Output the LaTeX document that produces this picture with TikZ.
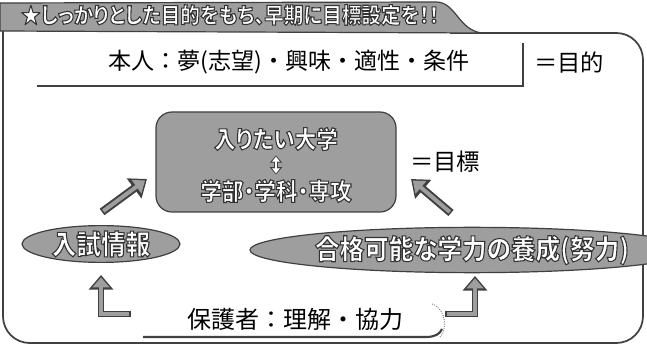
\documentclass[tikz,border=0pt]{standalone}
\usepackage{fontspec}
\setmainfont[RawFeature=+palt]{Noto Sans CJK JP}
\newfontfamily\jpfull{Noto Sans CJK JP}
\newfontfamily\jpcond[RawFeature=+palt, FakeStretch=0.9]{Noto Sans CJK JP}
\usetikzlibrary{arrows.meta,shapes.geometric}
\definecolor{shade}{gray}{0.62}
\definecolor{edge}{gray}{0.25}
\newcommand\outlinetext{\special{pdf:literal direct 0.2 0.2 0.2 RG 0.8 w 2 Tr}}
\begin{document}
\begin{tikzpicture}[x=0.75pt,y=-0.75pt,
  shapebox/.style={fill=shade, draw=edge, line width=0.9pt},
  wlabel/.style={text=white, inner sep=0pt},
  blabel/.style={text=black, inner sep=0pt},
  fatarrow/.style={draw=edge, line width=6pt, -{Triangle[length=12pt,width=18pt]},
    postaction={draw=shade, line width=3pt, -{Triangle[length=8pt,width=12pt]}, shorten >=1.8pt, shorten <=1.2pt}},
  elbowarrow/.style={draw=edge, line width=5pt, -{Triangle[length=11pt,width=18pt]},
    postaction={draw=shade, line width=2.4pt, -{Triangle[length=7.5pt,width=12.5pt]}, shorten >=1.8pt, shorten <=1.2pt}},
  ruleline/.style={draw=edge, line width=1.6pt},
]
\useasboundingbox (0,0) rectangle (647,349);
% outer frame
\draw[edge, line width=1.3pt, rounded corners=20pt] (450,33) -- (643,33) -- (643,343) -- (3,343) [rounded corners=4pt] -- (3,28);
% title tab
\draw[shapebox] (0,31) -- (0,3) -- (436,2) .. controls (456,2) and (458,30) .. (482,33) -- cycle;
\node[wlabel, font=\jpcond\bfseries\fontsize{16.3}{18}\selectfont] (title) at (230,15) {\outlinetext ★しっかりとした目的をもち、早期に目標設定を！！};
% person row
\node[blabel, font=\jpfull\fontsize{17.3}{20}\selectfont] (honnin) at (289,62) {本人：夢(志望)・興味・適性・条件};
\coordinate (hbl) at (37,86);
\coordinate (hbr) at (523,86);
\coordinate (hbt) at (523,43);
\draw[ruleline] (hbl) -- (hbr) -- (hbt);
\node[blabel, font=\fontsize{17.5}{20}\selectfont] (mokuteki) at (569,63) {＝目的};
% goal box
\node[shapebox, rounded corners=12pt, minimum width=180pt, minimum height=75pt] (goal) at (276,162) {};
\node[wlabel, font=\jpcond\bfseries\fontsize{18}{20}\selectfont] (uni) at (276,139) {\outlinetext 入りたい大学};
\node[wlabel, font=\jpcond\bfseries\fontsize{18}{20}\selectfont] (dept) at (276,191) {\outlinetext 学部・学科・専攻};
\draw[edge, line width=3.6pt, shorten <=3.5pt, shorten >=3.5pt, {Triangle[length=5.5pt,width=9pt]}-{Triangle[length=5.5pt,width=9pt]},
  postaction={draw=white, line width=1.8pt, {Triangle[length=3.8pt,width=5.6pt]}-{Triangle[length=3.8pt,width=5.6pt]}, shorten <=4.4pt, shorten >=4.4pt}] (uni) -- (dept);
\node[blabel, font=\fontsize{17.5}{20}\selectfont] (mokuhyo) at (445,162) {＝目標};
% diagonal arrows
\coordinate (la1) at (102,212);
\coordinate (la2) at (147,179);
\coordinate (ra1) at (451,213);
\coordinate (ra2) at (411,179);
\draw[fatarrow] (la1) -- (la2);
\draw[fatarrow] (ra1) -- (ra2);
% ellipses
\node[shapebox, ellipse, inner sep=0pt, text=white, font=\jpcond\bfseries\fontsize{20.5}{22}\selectfont, minimum width=118.5pt, minimum height=27pt] (nyushi) at (101,244) {\outlinetext 入試情報};
\node[shapebox, ellipse, inner sep=0pt, text=white, font=\jpcond\bfseries\fontsize{20.5}{22}\selectfont, minimum width=255pt, minimum height=34pt] (gakuryoku) at (472,250) {\outlinetext 合格可能な学力の養成(努力)};
% guardian row
\node[blabel, font=\jpfull\fontsize{18}{20}\selectfont] (hogo) at (295,319) {保護者：理解・協力};
\draw[ruleline] (143,337) -- (426,337) .. controls (435,337) and (440,334) .. (442,329);
\draw[edge!70, densely dotted, line width=0.7pt] (432,304) .. controls (447,309) and (447,331) .. (440,337);
% elbow arrows
\coordinate (lb) at (131,314);
\coordinate (lt) at (101,275);
\coordinate (rb) at (445,314);
\coordinate (rt) at (475,276);
\draw[elbowarrow] (lb) -| (lt);
\draw[elbowarrow] (rb) -| (rt);
\end{tikzpicture}
\end{document}
